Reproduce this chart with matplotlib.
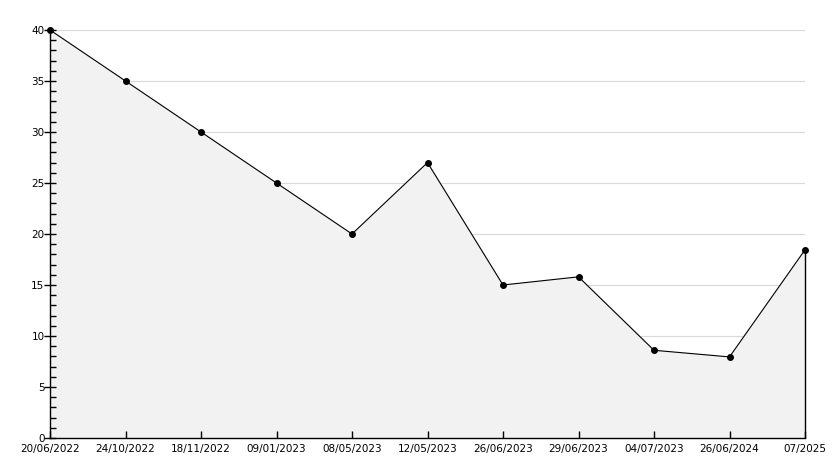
import matplotlib
matplotlib.use('Agg')
import matplotlib.pyplot as plt
from matplotlib.ticker import MultipleLocator

# Данные графика
labels = ['20/06/2022', '24/10/2022', '18/11/2022', '09/01/2023', '08/05/2023',
          '12/05/2023', '26/06/2023', '29/06/2023', '04/07/2023', '26/06/2024', '07/2025']
values = [40, 35, 30, 25, 20, 27, 15, 15.8, 8.6, 7.95, 18.45]

x = list(range(len(values)))

fig = plt.figure(figsize=(8.34, 4.68), dpi=100)
ax = fig.add_axes([50 / 834, 30 / 468, 755 / 834, 408 / 468])

ax.set_xlim(0, len(values) - 1)
ax.set_ylim(0, 40)
ax.set_xticks(x)
ax.set_xticklabels(labels)
ax.yaxis.set_major_locator(MultipleLocator(5))
ax.yaxis.set_minor_locator(MultipleLocator(1))

# сетка под заливкой, деления поверх
ax.hlines(ax.get_yticks(), 0, len(values) - 1, color='#d9d9d9', linewidth=0.8, zorder=0)
ax.fill_between(x, values, 0, color='#f2f2f2', zorder=1)
ax.plot(x, values, color='black', linewidth=0.8, marker='o', markersize=4,
        zorder=3, clip_on=False)
ax.vlines(x[-1], 0, values[-1], color='black', linewidth=1, zorder=3, clip_on=False)

for side in ['top', 'right']:
    ax.spines[side].set_visible(False)
ax.spines['left'].set_linewidth(1)
ax.spines['bottom'].set_linewidth(1)

ax.tick_params(axis='x', direction='in', length=5, width=1, labelsize=7.5, pad=4)
ax.tick_params(axis='y', which='major', direction='inout', length=8, width=1,
               labelsize=7.5, pad=0)
ax.tick_params(axis='y', which='minor', direction='in', length=4, width=1)

plt.savefig('out.png', dpi=100)
plt.close()
